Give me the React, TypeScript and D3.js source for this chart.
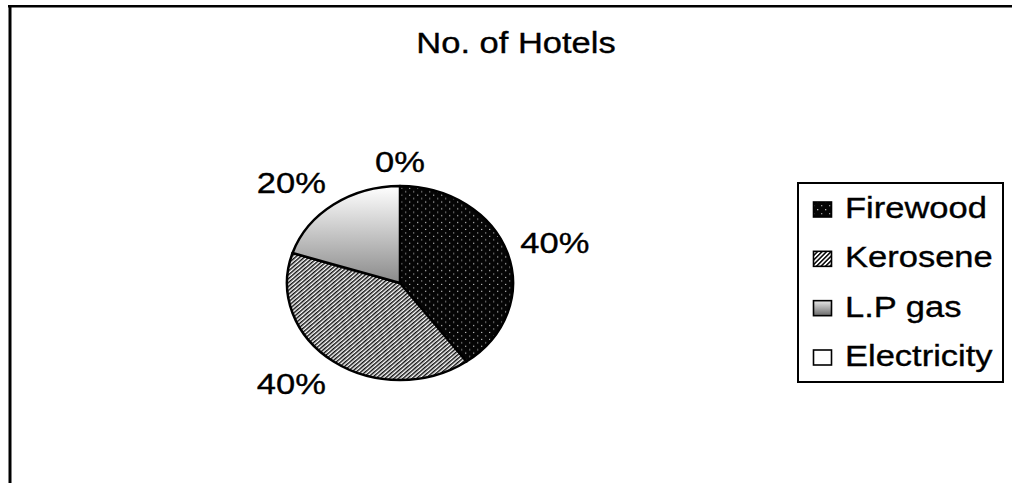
import * as d3 from 'd3';

const categories = ['Firewood', 'Kerosene', 'L.P gas', 'Electricity'];
const values = [40, 40, 20, 0];
const title = 'No. of Hotels';

const W = 1012;
const H = 483;
const fills = ['url(#dots)', 'url(#stripes)', 'url(#lpg)', '#ffffff'];

export default function App() {
  const cx = 400;
  const cy = 283;
  const rx = 113;
  const ry = 97;
  const stretch = 1.17;
  const fontSize = 29.5;

  const total = d3.sum(values);
  const pie = d3.pie<number>().sort(null).value(d => d);
  const arcs = pie(values);
  const arc = d3.arc<d3.PieArcDatum<number>>().innerRadius(0).outerRadius(rx);
  const pct = (v: number) => d3.format('.0%')(v / total);

  // labels outside the ellipse, pushed out by the text half-size
  const halfW = 34;
  const halfH = 10.5;
  const gap = 14;
  const clamp = (v: number) => Math.max(-1, Math.min(1, v));
  const labelPos = (a: number) => {
    const s = Math.sin(a);
    const c = Math.cos(a);
    const ex = cx + rx * s + s * gap;
    const ey = cy - ry * c - c * gap;
    return [ex + halfW * clamp(s * 2), ey - halfH * clamp(c * 2)];
  };

  const legendY = d3.scaleLinear().domain([0, categories.length - 1]).range([210, 358]);

  const font = '"Liberation Sans", Arial, sans-serif';
  const textProps = {
    fontFamily: font,
    fontSize,
    fill: '#000',
    stroke: '#000',
    strokeWidth: 0.35,
  };

  return (
    <svg width={W} height={H} style={{ position: 'absolute', left: 0, top: 0, background: '#fff' }}>
      <defs>
        <pattern id="dots" width={8} height={8} patternUnits="userSpaceOnUse">
          <rect width={8} height={8} fill="#050505" />
          <rect x={1} y={1} width={1.3} height={1.3} fill="#bbb" />
          <rect x={5} y={5} width={1.3} height={1.3} fill="#999" />
        </pattern>
        <pattern id="stripes" width={3.2} height={3.2} patternUnits="userSpaceOnUse" patternTransform="rotate(-45)">
          <rect width={3.2} height={3.2} fill="#fff" />
          <rect width={3.2} height={1.6} fill="#111" />
        </pattern>
        <linearGradient id="lpg" x1="0" y1="0" x2="0" y2="1">
          <stop offset="0%" stopColor="#ffffff" />
          <stop offset="100%" stopColor="#8a8a8a" />
        </linearGradient>
        <linearGradient id="lpgLegend" x1="0" y1="0" x2="0" y2="1">
          <stop offset="0%" stopColor="#e8e8e8" />
          <stop offset="100%" stopColor="#6a6a6a" />
        </linearGradient>
      </defs>

      {/* frame */}
      <line x1={8} x2={W} y1={6.2} y2={6.2} stroke="#000" strokeWidth={2.6} />
      <line x1={10} x2={10} y1={5} y2={H} stroke="#000" strokeWidth={3} />

      <text transform={`translate(516,53) scale(${stretch},1)`} textAnchor="middle" {...textProps}>
        {title}
      </text>

      <g transform={`translate(${cx},${cy}) scale(1,${ry / rx})`}>
        {arcs.map((a, i) =>
          a.endAngle > a.startAngle ? (
            <path
              key={i}
              d={arc(a) || ''}
              fill={fills[i]}
              stroke="#000"
              strokeWidth={2.5}
              strokeLinejoin="round"
              vectorEffect="non-scaling-stroke"
            />
          ) : null
        )}
      </g>

      {arcs.map((a, i) => {
        const [lx, ly] = labelPos((a.startAngle + a.endAngle) / 2);
        return (
          <text
            key={i}
            transform={`translate(${lx},${ly + halfH}) scale(${stretch},1)`}
            textAnchor="middle"
            {...textProps}
          >
            {pct(a.data)}
          </text>
        );
      })}

      <rect x={798} y={183} width={205} height={199} fill="#fff" stroke="#000" strokeWidth={2} />
      {categories.map((c, i) => (
        <g key={c}>
          <rect
            x={813.5}
            y={legendY(i) - 8}
            width={18}
            height={15}
            fill={i === 2 ? 'url(#lpgLegend)' : fills[i]}
            stroke="#000"
            strokeWidth={1.6}
          />
          <text transform={`translate(845,${legendY(i) + 8}) scale(${stretch},1)`} {...textProps}>
            {c}
          </text>
        </g>
      ))}
    </svg>
  );
}
